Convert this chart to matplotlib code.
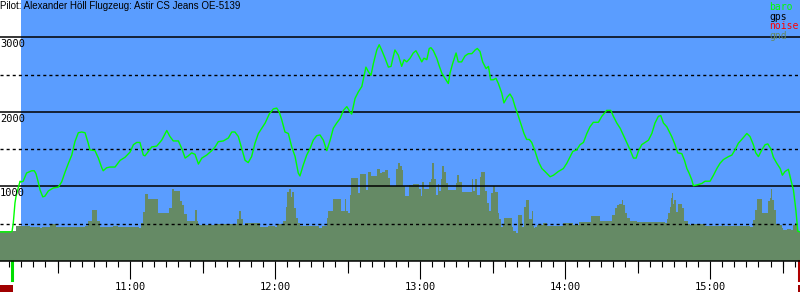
import matplotlib
matplotlib.use('Agg')
import matplotlib.pyplot as plt
import matplotlib.transforms as mtransforms
from matplotlib.patches import Rectangle
import numpy as np

# time in minutes since midnight, altitude in m
t_start = 606.2
t_end = 937.2
flight_start = 614.9
takeoff = 611.2
landing = 936.9
noise_spans = [(606.2, 611.6), (936.5, 937.2)]

title = "Pilot: Alexander Höll Flugzeug: Astir CS Jeans OE-5139"
legend_names = ["baro", "gps", "noise", "gnd"]
hour_ticks = [660, 720, 780, 840, 900]
hour_labels = ["11:00", "12:00", "13:00", "14:00", "15:00"]
solid_levels = [1000, 2000, 3000]
dashed_levels = [500, 1500, 2500]

baro_t = [606.2, 610.8, 611.2, 611.7, 612.4, 612.8, 613.8, 614.5, 614.9, 615.8,
          617.2, 619.3, 620.4, 621.1, 622.0, 622.8, 623.9, 624.8, 626.2, 628.3,
          630.3, 631.7, 633.1, 634.5, 635.9, 637.2, 638.6, 640.0, 641.4, 642.7,
          643.4, 645.5, 646.9, 648.3, 648.9, 650.3, 651.7, 653.8, 655.9, 657.9,
          660.0, 661.4, 662.8, 664.1, 665.5, 666.2, 667.6, 669.0, 671.0, 673.1,
          675.2, 676.5, 677.9, 680.0, 681.4, 682.8, 684.1, 685.5, 686.9, 688.3,
          689.7, 691.7, 693.8, 695.2, 696.5, 698.6, 700.7, 702.1, 703.4, 704.8,
          706.2, 707.6, 708.9, 710.3, 711.7, 713.1, 714.5, 715.9, 717.6, 719.3,
          720.7, 721.7, 722.8, 724.1, 725.5, 726.9, 728.3, 729.6, 730.3, 731.7,
          733.1, 734.5, 735.8, 737.2, 738.6, 740.0, 741.4, 742.8, 744.1, 745.5,
          746.9, 748.3, 749.7, 751.0, 751.7, 753.1, 754.5, 755.9, 756.5, 757.6,
          758.6, 759.7, 760.7, 762.1, 763.1, 764.1, 765.5, 766.9, 768.0, 768.9,
          769.6, 771.0, 772.4, 773.4, 774.5, 775.9, 777.2, 778.3, 779.3, 780.7,
          781.6, 782.8, 783.8, 784.5, 785.5, 786.9, 788.0, 789.0, 790.3, 791.7,
          792.4, 793.5, 794.9, 795.8, 797.2, 798.6, 800.0, 801.4, 802.8, 803.7,
          804.8, 805.9, 807.3, 808.3, 809.2, 810.3, 811.4, 812.4, 813.8, 814.7,
          816.1, 817.2, 818.3, 819.3, 820.7, 822.1, 823.0, 824.1, 825.2, 826.2,
          827.6, 829.0, 830.4, 831.7, 833.8, 835.2, 837.2, 839.3, 840.7, 842.1,
          843.2, 844.8, 846.2, 847.6, 849.0, 850.3, 851.7, 853.8, 855.2, 856.5,
          857.2, 858.9, 860.0, 861.4, 862.8, 864.1, 865.5, 866.9, 868.3, 869.4,
          870.3, 871.7, 873.1, 874.5, 875.9, 877.2, 878.6, 879.6, 880.7, 882.1,
          882.7, 884.1, 885.5, 886.6, 888.3, 889.4, 890.4, 891.3, 892.4, 893.1,
          894.5, 896.6, 897.9, 900.0, 901.4, 902.8, 904.1, 905.5, 907.6, 909.0,
          910.3, 911.7, 913.1, 915.2, 916.5, 917.9, 918.9, 920.0, 921.4, 922.8,
          923.9, 925.2, 926.2, 927.6, 929.0, 929.9, 931.0, 932.4, 933.4, 934.5,
          935.5, 936.3, 937.2]
baro_alt = [390, 390, 400, 510, 780, 860, 990, 1070, 1060, 1070,
            1180, 1210, 1210, 1170, 1060, 950, 860, 870, 940, 980,
            990, 1060, 1190, 1310, 1420, 1600, 1720, 1730, 1720, 1580,
            1490, 1480, 1380, 1250, 1210, 1250, 1260, 1260, 1350, 1390,
            1460, 1560, 1590, 1590, 1420, 1410, 1470, 1530, 1540, 1620,
            1750, 1670, 1610, 1610, 1510, 1380, 1410, 1450, 1430, 1300,
            1380, 1420, 1480, 1530, 1600, 1610, 1650, 1730, 1730, 1670,
            1510, 1350, 1320, 1400, 1580, 1710, 1780, 1850, 1970, 2040,
            2050, 2000, 1890, 1730, 1710, 1530, 1400, 1180, 1140, 1290,
            1420, 1510, 1620, 1680, 1690, 1620, 1480, 1620, 1780, 1850,
            1910, 2020, 2070, 2000, 1970, 2180, 2270, 2340, 2430, 2600,
            2540, 2490, 2650, 2830, 2900, 2830, 2720, 2600, 2610, 2740,
            2830, 2760, 2610, 2700, 2670, 2720, 2790, 2820, 2760, 2670,
            2720, 2700, 2850, 2860, 2820, 2720, 2610, 2520, 2450, 2380,
            2520, 2650, 2790, 2670, 2670, 2750, 2780, 2780, 2830, 2850,
            2810, 2670, 2580, 2610, 2430, 2430, 2450, 2380, 2250, 2120,
            2200, 2240, 2180, 2070, 1940, 1800, 1710, 1630, 1630, 1590,
            1470, 1330, 1240, 1200, 1130, 1150, 1200, 1240, 1310, 1400,
            1470, 1490, 1560, 1590, 1710, 1800, 1860, 1860, 1940, 1990,
            2020, 2020, 1940, 1850, 1780, 1690, 1590, 1490, 1380, 1380,
            1470, 1560, 1590, 1620, 1710, 1850, 1940, 1950, 1850, 1800,
            1760, 1670, 1560, 1450, 1440, 1350, 1240, 1180, 1090, 1010,
            1020, 1040, 1070, 1070, 1150, 1240, 1310, 1360, 1400, 1420,
            1490, 1580, 1630, 1710, 1670, 1560, 1450, 1400, 1490, 1560,
            1570, 1500, 1390, 1310, 1240, 1150, 1200, 1230, 1090, 950,
            680, 400, 390]

gnd_t = [606.2, 612.8, 618.6, 622.8, 623.6, 626.9, 629.4, 641.4, 642.6, 644.3,
         646.3, 647.6, 652.9, 655.0, 663.7, 664.5, 665.5, 666.2, 667.6, 671.5,
         676.3, 677.2, 678.2, 680.7, 681.6, 682.5, 683.5, 686.9, 687.6, 688.3,
         695.6, 704.1, 705.2, 705.9, 706.9, 707.6, 713.8, 717.2, 720.0, 720.7,
         723.4, 724.4, 725.1, 725.8, 726.6, 727.2, 728.0, 728.6, 729.6, 730.3,
         738.2, 739.3, 741.4, 742.1, 744.1, 747.3, 749.0, 749.4, 750.1, 751.0,
         751.4, 754.5, 755.0, 757.6, 758.6, 759.7, 762.2, 763.4, 764.4, 765.5,
         766.6, 767.6, 770.1, 771.0, 771.7, 772.4, 773.1, 773.8, 775.4, 777.2,
         779.6, 780.3, 780.9, 781.6, 783.8, 784.4, 785.1, 785.9, 786.6, 787.3,
         787.9, 788.6, 789.2, 789.9, 790.6, 791.5, 794.9, 795.4, 796.1, 797.2,
         801.4, 802.1, 802.8, 803.4, 804.8, 805.2, 806.9, 807.6, 808.7, 809.2,
         810.1, 811.0, 812.1, 812.8, 813.5, 814.2, 814.9, 817.9, 818.6, 819.7,
         820.4, 822.1, 823.0, 823.7, 825.2, 826.2, 826.9, 827.2, 827.6, 828.5,
         831.0, 832.4, 839.3, 843.4, 845.9, 850.8, 854.5, 859.3, 860.7, 861.6,
         862.5, 863.4, 864.1, 864.8, 865.8, 866.9, 869.7, 881.4, 882.1, 882.7,
         883.4, 883.8, 884.4, 884.8, 885.2, 885.8, 886.6, 888.3, 889.4, 890.8,
         891.7, 892.4, 897.9, 904.8, 905.5, 916.5, 917.9, 918.6, 919.3, 921.4,
         924.1, 924.8, 925.2, 925.7, 926.5, 927.2, 928.2, 929.7, 930.3, 931.7,
         933.5, 934.5, 935.2, 935.9, 936.5, 937.2]
gnd_alt = [400, 470, 460, 440, 460, 490, 460, 470, 540, 680,
           540, 450, 470, 460, 440, 510, 660, 900, 830, 640,
           710, 970, 940, 800, 750, 630, 540, 680, 540, 480,
           500, 560, 670, 560, 480, 510, 460, 470, 450, 500,
           540, 730, 930, 970, 860, 930, 710, 570, 510, 470,
           440, 470, 570, 670, 830, 670, 830, 670, 650, 890,
           1110, 910, 1170, 950, 1200, 1140, 1230, 1180, 1200, 1220,
           1110, 1010, 1240, 1320, 1270, 1220, 1000, 870, 1020, 1030,
           970, 870, 1060, 970, 1060, 1100, 1310, 1100, 890, 1030,
           940, 1100, 1270, 1200, 1050, 950, 1040, 1150, 1060, 930,
           1100, 940, 1100, 880, 1130, 1200, 940, 780, 670, 910,
           1000, 930, 650, 560, 460, 480, 570, 460, 400, 380,
           620, 450, 730, 820, 560, 670, 470, 440, 450, 480,
           510, 470, 510, 480, 520, 600, 540, 620, 710, 750,
           770, 820, 750, 640, 570, 540, 520, 510, 560, 640,
           730, 840, 910, 770, 820, 660, 770, 710, 540, 500,
           480, 500, 470, 490, 470, 460, 550, 680, 830, 640,
           800, 840, 970, 820, 680, 500, 480, 440, 410, 430,
           420, 480, 510, 420, 390, 390]

blue = '#5a9dff'
gnd_color = '#658a65'
baro_color = '#00ff00'
mono = 'DejaVu Sans Mono'

fig = plt.figure(figsize=(8, 3), dpi=100)
ax = fig.add_axes([0, 0.13, 1, 0.87])
ax.set_xlim(t_start, t_end)
ax.set_ylim(0, 3500)
ax.set_facecolor('white')

ax.axvspan(flight_start, t_end, color=blue, lw=0, zorder=0)
ax.fill_between(gnd_t, gnd_alt, step='post', color=gnd_color, lw=0, zorder=1)

for lvl in solid_levels:
    ax.axhline(lvl, color='black', lw=1.1, zorder=2)
    ax.annotate(str(lvl), xy=(0, lvl), xycoords=('axes fraction', 'data'),
                xytext=(0, -1.2), textcoords='offset points', va='top', ha='left',
                fontsize=7.5, family=mono, zorder=4)
for lvl in dashed_levels:
    ax.axhline(lvl, color='black', lw=1.0, ls=(0, (2.2, 2.2)), zorder=2)

ax.plot(baro_t, baro_alt, color=baro_color, lw=1.0, zorder=3)

for s in ['left', 'top', 'right']:
    ax.spines[s].set_visible(False)
ax.spines['bottom'].set_linewidth(1.1)
ax.set_yticks([])

ax.set_xticks(hour_ticks, hour_labels)
ax.set_xticks(np.arange(610, t_end, 5), minor=True)
ax.tick_params(axis='x', which='major', length=13, width=0.8, pad=2,
               labelsize=7.5)
ax.tick_params(axis='x', which='minor', length=4.5, width=0.8)
for lab in ax.get_xticklabels():
    lab.set_family(mono)

sec = ax.secondary_xaxis('bottom')
sec.set_xticks(np.arange(630, t_end, 60))
sec.tick_params(length=8.6, width=0.8, labelbottom=False)
sec.spines['bottom'].set_visible(False)

trans = mtransforms.blended_transform_factory(ax.transData, ax.transAxes)
ax.axvline(takeoff, ymin=-0.073, ymax=0, color='#00dd00', lw=2.2, clip_on=False)
ax.axvline(landing, ymin=-0.073, ymax=0, color='#b00000', lw=2.2, clip_on=False)
for a, b in noise_spans:
    ax.add_patch(Rectangle((a, -0.119), b - a, 0.027, transform=trans,
                           color='#a00000', lw=0, clip_on=False))

fig.text(0.0, 0.997, title, va='top', ha='left', fontsize=7,
         family='Liberation Sans')

legend_colors = [baro_color, 'black', '#ff0000', gnd_color]
for i, (name, col) in enumerate(zip(legend_names, legend_colors)):
    fig.text(769 / 800, 1 - (10 + 9.7 * i) / 300, name, color=col, fontsize=7,
             family=mono, va='baseline', ha='left')

fig.savefig('out.png', dpi=100)
